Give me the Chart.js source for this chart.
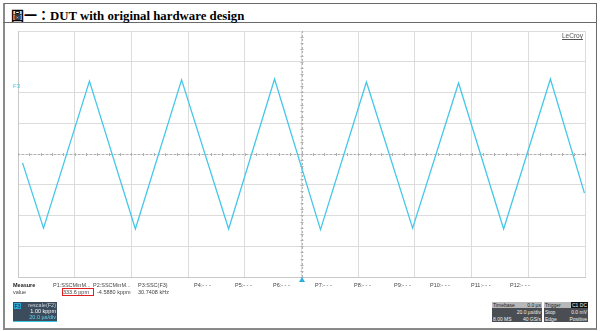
<!DOCTYPE html>
<html>
<head>
    <meta charset="UTF-8">
    <title>DUT with original hardware design</title>
    <script src="https://cdn.jsdelivr.net/npm/chart.js"></script>
    <style>
        body {
            margin: 0;
            background-color: #ffffff;
            font-family: Arial, "Liberation Sans", sans-serif;
        }
        #page {
            position: relative;
            width: 600px;
            height: 331px;
            overflow: hidden;
        }
        .frame {
            position: absolute;
            left: 3px;
            top: 3px;
            width: 591px;
            height: 324px;
            border: 1px solid #6a6a6a;
            border-left: 2px solid #8a8a8a;
            border-bottom: 2px solid #8a8a8a;
        }
        .titleLine {
            position: absolute;
            left: 3px;
            top: 22px;
            width: 594px;
            height: 0;
            border-top: 1px solid #6a6a6a;
        }
        .title {
            position: absolute;
            left: 11px;
            top: 5px;
            font-family: "Liberation Serif", "Noto Sans CJK TC", serif;
            font-weight: bold;
            font-size: 12.8px;
            color: #000;
            white-space: nowrap;
        }
        .title .cjk {
            font-family: "Noto Sans CJK TC", sans-serif;
            font-size: 13px;
        }
        #myChart {
            position: absolute;
            left: 14px;
            top: 27px;
        }
        .small {
            position: absolute;
            font-size: 5.5px;
            color: #444;
            white-space: nowrap;
            line-height: 6px;
        }
        .lecroy {
            position: absolute;
            left: 562px;
            top: 32px;
            font-size: 6.5px;
            color: #555;
            text-decoration: underline;
        }
        .f3mark {
            position: absolute;
            left: 13px;
            top: 83px;
            font-size: 6px;
            color: #3cc6e6;
        }
        .trig {
            position: absolute;
            left: 299px;
            top: 277px;
            width: 0;
            height: 0;
            border-left: 3px solid transparent;
            border-right: 3px solid transparent;
            border-bottom: 5px solid #2ab0e0;
        }
        .redbox {
            position: absolute;
            left: 62px;
            top: 288px;
            width: 30px;
            height: 6px;
            border: 1px solid #e02020;
        }
        .chBox {
            position: absolute;
            left: 13px;
            top: 302px;
            width: 44px;
            height: 19px;
            background: #3b4c5c;
            border-bottom: 1px solid #3cc6e6;
        }
        .chTag {
            position: absolute;
            left: 1px;
            top: 1px;
            width: 7px;
            height: 6px;
            background: #2aa8d8;
            color: #123;
            font-size: 5px;
            line-height: 6px;
            text-align: center;
        }
        .chTxt {
            position: absolute;
            right: 1px;
            font-size: 5.5px;
            line-height: 6px;
            white-space: nowrap;
        }
        .tbBox {
            position: absolute;
            top: 302px;
            height: 20px;
            background: #4a4d52;
        }
        .tbHead {
            position: absolute;
            left: 0;
            top: 0;
            right: 0;
            height: 6px;
            background: #b8b8b8;
        }
        .tbTxt {
            position: absolute;
            font-size: 5px;
            line-height: 6px;
            color: #eee;
            white-space: nowrap;
        }
    </style>
</head>
<body>
<div id="page">
    <div class="frame"></div>
    <div class="titleLine"></div>
    <div class="title"><span class="cjk">圖一：</span>DUT with original hardware design</div>

    <canvas id="myChart" width="575" height="254"></canvas>

    <div class="lecroy">LeCroy</div>
    <div class="f3mark">F3</div>
    <div class="trig"></div>

    <div class="small" style="left:13px;top:282px;font-weight:bold;color:#222;">Measure</div>
    <div class="small" style="left:13px;top:289px;">value</div>
    <div id="measRow"></div>
    <div class="redbox"></div>

    <div class="chBox">
        <div class="chTag">F3</div>
        <div class="chTxt" style="top:0px;color:#c8d4dc;">rescale(F2)</div>
        <div class="chTxt" style="top:6px;color:#ffffff;">1.00 kppm</div>
        <div class="chTxt" style="top:12px;color:#5fd8f8;">20.0 µs/div</div>
    </div>

    <div class="tbBox" style="left:492px;width:50px;">
        <div class="tbHead"></div>
        <div class="tbTxt" style="left:1px;top:0px;color:#222;">Timebase</div>
        <div class="tbTxt" style="right:1px;top:0px;color:#222;">0.0 µs</div>
        <div class="tbTxt" style="right:1px;top:7px;">20.0 µs/div</div>
        <div class="tbTxt" style="left:1px;top:14px;">8.00 MS</div>
        <div class="tbTxt" style="right:1px;top:14px;">40 GS/s</div>
    </div>
    <div class="tbBox" style="left:544px;width:44px;">
        <div class="tbHead"></div>
        <div class="tbTxt" style="left:1px;top:0px;color:#222;">Trigger</div>
        <div class="tbTxt" style="right:0px;top:0px;background:#111;color:#eee;padding:0 1px;">C1 DC</div>
        <div class="tbTxt" style="left:1px;top:7px;">Stop</div>
        <div class="tbTxt" style="right:1px;top:7px;">0.0 mV</div>
        <div class="tbTxt" style="left:1px;top:14px;">Edge</div>
        <div class="tbTxt" style="right:1px;top:14px;">Positive</div>
    </div>
</div>

<script>
    // trace vertices (time in µs, value in kppm)
    const timeUs = [-98.4, -91.0, -74.8, -58.6, -42.3, -25.7, -9.5, 6.7, 22.9, 39.2, 55.4, 71.3, 87.8, 99.8];
    const valueKppm = [-0.29, -2.41, 2.37, -2.44, 2.41, -2.44, 2.44, -2.46, 2.34, -2.41, 2.31, -2.44, 2.44, -1.27];

    // measurement table
    const paramLabels = ['P1:SSCMinM...', 'P2:SSCMinM...', 'P3:SSC(F3)', 'P4:- - -', 'P5:- - -', 'P6:- - -',
                         'P7:- - -', 'P8:- - -', 'P9:- - -', 'P10:- - -', 'P11:- - -', 'P12:- - -'];
    const paramX = [53, 93, 138, 194, 235, 273, 315, 354, 394, 430, 471, 510];
    const paramValues = ['333.6 ppm', '-4.5880 kppm', '30.7408 kHz'];
    const paramValueX = [63, 97, 138];

    const row = document.getElementById('measRow');
    paramLabels.forEach((txt, i) => {
        const d = document.createElement('div');
        d.className = 'small';
        d.style.left = paramX[i] + 'px';
        d.style.top = '282px';
        d.textContent = txt;
        row.appendChild(d);
    });
    paramValues.forEach((txt, i) => {
        const d = document.createElement('div');
        d.className = 'small';
        d.style.left = paramValueX[i] + 'px';
        d.style.top = '289px';
        d.textContent = txt;
        row.appendChild(d);
    });

    const points = timeUs.map((t, i) => ({ x: t, y: valueKppm[i] }));

    // dotted centre cross with small sub-division ticks, like the scope graticule
    const centreCross = {
        id: 'centreCross',
        beforeDatasetsDraw(chart) {
            const { ctx, chartArea, scales } = chart;
            const cx = scales.x.getPixelForValue(0);
            const cy = scales.y.getPixelForValue(0);
            ctx.save();
            ctx.strokeStyle = '#b0b0b0';
            ctx.lineWidth = 1;
            ctx.setLineDash([2, 2]);
            ctx.beginPath();
            ctx.moveTo(Math.round(cx) + 0.5, chartArea.top);
            ctx.lineTo(Math.round(cx) + 0.5, chartArea.bottom);
            ctx.moveTo(chartArea.left, Math.round(cy) + 0.5);
            ctx.lineTo(chartArea.right, Math.round(cy) + 0.5);
            ctx.stroke();
            ctx.setLineDash([]);
            ctx.beginPath();
            for (let t = -100; t <= 100; t += 4) {
                const px = Math.round(scales.x.getPixelForValue(t)) + 0.5;
                ctx.moveTo(px, cy - 1);
                ctx.lineTo(px, cy + 2);
            }
            for (let v = -4; v <= 4; v += 0.2) {
                const py = Math.round(scales.y.getPixelForValue(v)) + 0.5;
                ctx.moveTo(cx - 1, py);
                ctx.lineTo(cx + 2, py);
            }
            ctx.stroke();
            ctx.restore();
        }
    };

    const ctx = document.getElementById('myChart').getContext('2d');
    new Chart(ctx, {
        type: 'line',
        data: {
            datasets: [{
                label: 'F3',
                data: points,
                borderColor: '#45c8e8',
                borderWidth: 1.3,
                pointRadius: 0,
                tension: 0,
                fill: false
            }]
        },
        options: {
            responsive: false,
            animation: false,
            devicePixelRatio: 1,
            layout: { padding: 4 },
            plugins: {
                legend: { display: false },
                tooltip: { enabled: false }
            },
            scales: {
                x: {
                    type: 'linear',
                    min: -100,
                    max: 100,
                    ticks: { display: false, stepSize: 20 },
                    grid: { color: '#dcdcdc', lineWidth: 1, drawTicks: false },
                    border: { display: true, color: '#c8c8c8' }
                },
                y: {
                    min: -4,
                    max: 4,
                    ticks: { display: false, stepSize: 1 },
                    grid: { color: '#dcdcdc', lineWidth: 1, drawTicks: false },
                    border: { display: true, color: '#c8c8c8' }
                }
            }
        },
        plugins: [centreCross]
    });
</script>
</body>
</html>
